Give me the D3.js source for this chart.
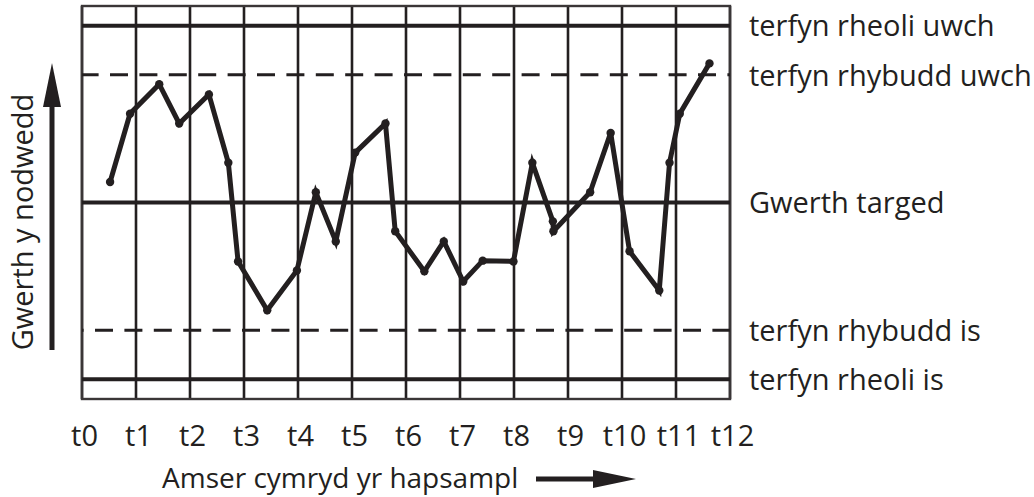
<!DOCTYPE html>
<html>
<head>
<meta charset="utf-8">
<script src="https://cdn.jsdelivr.net/npm/d3@7"></script>
<style>
  body { margin: 0; background: #fff; }
  text { font-family: "Open Sans", sans-serif; fill: #231f20; }
</style>
</head>
<body>
<div id="chartContainer"></div>
<script>
// tick labels along the bottom
const tickLabels = ["t0", "t1", "t2", "t3", "t4", "t5", "t6", "t7", "t8", "t9", "t10", "t11", "t12"];

// limit lines (value on a 0-100 scale) and their names
const limitNames = ["terfyn rheoli uwch", "terfyn rhybudd uwch", "Gwerth targed", "terfyn rhybudd is", "terfyn rheoli is"];
const limitValues = [95, 82.5, 50, 17.5, 5];
const limitKinds = ["control", "warning", "target", "warning", "control"];

// sample times (in t units) and measured values
const sampleTimes = [0.52, 0.89, 1.43, 1.80, 2.35, 2.71, 2.89, 3.43, 3.98, 4.33, 4.70, 5.06, 5.62, 5.80, 6.34,
                     6.70, 7.06, 7.42, 7.99, 8.34, 8.72, 8.73, 9.41, 9.79, 10.14, 10.69, 10.88, 11.07, 11.62];
const sampleValues = [55.2, 72.6, 80.1, 70.1, 77.5, 60.1, 35.0, 22.6, 32.7, 52.6, 40.1, 62.7, 70.1, 42.7, 32.5,
                      40.1, 29.9, 35.2, 35.0, 60.1, 45.2, 42.7, 52.6, 67.7, 37.6, 27.6, 60.1, 72.6, 85.4];

const xTitle = "Amser cymryd yr hapsampl";
const yTitle = "Gwerth y nodwedd";

const svgWidth = 1034;
const svgHeight = 497;
const ink = "#231f20";
const fontSize = "29px";

const svg = d3.select("#chartContainer")
              .append("svg")
              .attr("width", svgWidth)
              .attr("height", svgHeight);

const xScale = d3.scaleLinear().domain([0, 12]).range([82, 730]);
const yScale = d3.scaleLinear().domain([0, 100]).range([399, 6]);

const points = sampleTimes.map((t, i) => ({ t: t, v: sampleValues[i] }));

// vertical grid lines, one per sample time
svg.append("g")
   .selectAll("line")
   .data(tickLabels)
   .enter()
   .append("line")
   .attr("x1", (d, i) => xScale(i))
   .attr("x2", (d, i) => xScale(i))
   .attr("y1", yScale(100))
   .attr("y2", yScale(0))
   .attr("stroke", ink)
   .attr("stroke-width", 2.6);

// outer frame
svg.append("rect")
   .attr("x", xScale(0))
   .attr("y", yScale(100))
   .attr("width", xScale(12) - xScale(0))
   .attr("height", yScale(0) - yScale(100))
   .attr("fill", "none")
   .attr("stroke", "#3a3637")
   .attr("stroke-width", 2.4);

// limit lines
svg.append("g")
   .selectAll("line")
   .data(limitValues)
   .enter()
   .append("line")
   .attr("x1", xScale(0))
   .attr("x2", xScale(12))
   .attr("y1", d => yScale(d))
   .attr("y2", d => yScale(d))
   .attr("stroke", ink)
   .attr("stroke-width", (d, i) => limitKinds[i] === "warning" ? 3 : 4)
   .attr("stroke-dasharray", (d, i) => limitKinds[i] === "warning" ? "18,11.4" : null)
   .attr("stroke-dashoffset", (d, i) => i === 1 ? 1.4 : 16.4);

// limit names on the right
svg.append("g")
   .selectAll("text")
   .data(limitNames)
   .enter()
   .append("text")
   .attr("x", 749)
   .attr("y", (d, i) => yScale(limitValues[i]))
   .attr("dy", "0.37em")
   .style("font-size", fontSize)
   .text(d => d);

// the sample line
const line = d3.line()
               .x(d => xScale(d.t))
               .y(d => yScale(d.v));

svg.append("path")
   .datum(points)
   .attr("fill", "none")
   .attr("stroke", ink)
   .attr("stroke-width", 5)
   .attr("d", line);

svg.append("g")
   .selectAll("circle")
   .data(points)
   .enter()
   .append("circle")
   .attr("cx", d => xScale(d.t))
   .attr("cy", d => yScale(d.v))
   .attr("r", 4.2)
   .attr("fill", ink);

// bottom tick labels
const xAxis = svg.append("g")
   .attr("transform", "translate(0, 446)")
   .call(d3.axisBottom(xScale)
           .tickValues(d3.range(tickLabels.length))
           .tickFormat(i => tickLabels[i])
           .tickSize(0)
           .tickPadding(0));
xAxis.select(".domain").remove();
xAxis.selectAll("text")
     .attr("dx", 2)
     .attr("dy", 0)
     .attr("font-family", null)
     .attr("font-size", null)
     .style("font-size", fontSize);

// x title with arrow
svg.append("text")
   .attr("x", 162)
   .attr("y", 488)
   .style("font-size", "28px")
   .text(xTitle);

svg.append("line")
   .attr("x1", 536).attr("x2", 600)
   .attr("y1", 479).attr("y2", 479)
   .attr("stroke", ink)
   .attr("stroke-width", 5);
svg.append("path")
   .attr("d", "M593,470 L636,479 L593,488 Z")
   .attr("fill", ink);

// y title with arrow
svg.append("text")
   .attr("transform", "translate(33, 222) rotate(-90)")
   .attr("text-anchor", "middle")
   .style("font-size", fontSize)
   .text(yTitle);

svg.append("line")
   .attr("x1", 52).attr("x2", 52)
   .attr("y1", 350).attr("y2", 100)
   .attr("stroke", ink)
   .attr("stroke-width", 5);
svg.append("path")
   .attr("d", "M43,107 L52,63 L61,107 Z")
   .attr("fill", ink);
</script>
</body>
</html>
